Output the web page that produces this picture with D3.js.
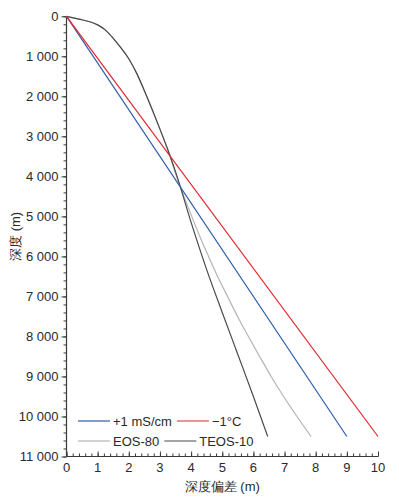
<!DOCTYPE html>
<html><head><meta charset="utf-8">
<script src="https://cdn.jsdelivr.net/npm/d3@7"></script>
<style>body{margin:0;background:#fff;} svg{display:block;}</style>
</head><body>
<svg id="c" width="399" height="497"></svg>
<script>
// Data: depth deviation (m) and depth (m) per series
const condDev = [0, 9.0];
const condDepth = [0, 10500];
const tempDev = [0, 10.0];
const tempDepth = [0, 10500];
const eos80Dev = [0,0.4,0.8,1.0,1.25,1.5,1.75,2.0,2.25,2.5,2.75,3.0,3.25,3.53,3.77,4.02,4.28,4.56,4.85,5.17,5.49,5.84,6.2,6.57,6.97,7.4,7.85];
const eos80Depth = [0,72,150,215,345,550,790,1060,1420,1860,2330,2820,3330,4000,4500,5000,5500,6000,6500,7000,7500,8000,8500,9000,9500,10000,10500];
const teos10Dev = [0,0.4,0.8,1.0,1.25,1.5,1.75,2.0,2.25,2.5,2.75,3.0,3.25,3.5,4.0,4.5,5.0,5.5,6.0,6.46];
const teos10Depth = [0,72,150,215,345,550,790,1060,1420,1860,2330,2820,3330,3880,5150,6330,7400,8450,9500,10500];
const seriesNames = ["+1 mS/cm","\u22121°C","EOS-80","TEOS-10"];
const seriesColors = ["#2f5da8","#e0262c","#b4b4b4","#4a4a4a"];
const xTicks = [0,1,2,3,4,5,6,7,8,9,10];
const yTicks = [0,1000,2000,3000,4000,5000,6000,7000,8000,9000,10000,11000];
const xTitle = "深度偏差 (m)";
const yTitle = "深度 (m)";

const svg = d3.select("#c");
const x = d3.scaleLinear().domain([0,10]).range([66.5,378]);
const y = d3.scaleLinear().domain([0,11000]).range([16.3,456.5]);
const font = "'Liberation Sans', Arial, sans-serif";
const textColor = "#2a2a2a";
const axisColor = "#3a3a3a";

// Y axis (ticks outward)
const yAxis = svg.append("g").attr("transform",`translate(${x(0)},0)`);
yAxis.call(d3.axisLeft(y).tickValues(d3.range(0,11001,200)).tickSize(3).tickFormat(""));
yAxis.select(".domain").remove();
const yAxisM = svg.append("g").attr("transform",`translate(${x(0)},0)`);
yAxisM.call(d3.axisLeft(y).tickValues(yTicks).tickSize(5).tickPadding(3)
  .tickFormat(d=>d3.format(",")(d).replace(/,/g," ")));
yAxisM.select(".domain").remove();
yAxisM.selectAll("text").attr("font-family",font).attr("font-size",13).attr("fill",textColor);

// X axis (ticks inward)
const xAxis = svg.append("g").attr("transform",`translate(0,${y(11000)})`);
xAxis.call(d3.axisTop(x).tickValues(d3.range(0,10.01,0.2)).tickSize(3).tickFormat(""));
xAxis.select(".domain").remove();
const xAxisM = svg.append("g").attr("transform",`translate(0,${y(11000)})`);
xAxisM.call(d3.axisTop(x).tickValues(xTicks).tickSize(5).tickFormat(""));
xAxisM.select(".domain").remove();
svg.selectAll(".tick line").attr("stroke",axisColor);
svg.append("g").selectAll("text").data(xTicks).join("text")
  .attr("x",d=>x(d)).attr("y",y(11000)+15.5).attr("text-anchor","middle")
  .attr("font-family",font).attr("font-size",13).attr("fill",textColor).text(d=>d);

// axis lines
svg.append("line").attr("x1",x(0)).attr("x2",x(0)).attr("y1",y(0)).attr("y2",y(11000)).attr("stroke",axisColor).attr("stroke-width",1.2);
svg.append("line").attr("x1",x(0)).attr("x2",x(10)).attr("y1",y(11000)).attr("y2",y(11000)).attr("stroke",axisColor).attr("stroke-width",1.2);

// titles
svg.append("text").attr("x",(x(0)+x(10))/2).attr("y",491).attr("text-anchor","middle")
  .attr("font-family",font).attr("font-size",13).attr("fill",textColor).text(xTitle);
svg.append("text").attr("transform",`translate(20,${y(5500)}) rotate(-90)`).attr("text-anchor","middle")
  .attr("font-family",font).attr("font-size",13).attr("fill",textColor).text(yTitle);

// lines
const allSeries = [[condDev,condDepth],[tempDev,tempDepth],[eos80Dev,eos80Depth],[teos10Dev,teos10Depth]];
const line = d3.line().x(d=>x(d[0])).y(d=>y(d[1])).curve(d3.curveMonotoneX);
[2,3,0,1].forEach(i=>{
  const [dv,dp] = allSeries[i];
  svg.append("path").datum(dv.map((v,k)=>[v,dp[k]]))
    .attr("d",line).attr("fill","none").attr("stroke",seriesColors[i]).attr("stroke-width",1.2);
});

// legend (flow layout, two rows)
const rows = [[0,1],[2,3]];
const rowY = [421,441];
rows.forEach((r,ri)=>{
  let cx = 78;
  r.forEach(i=>{
    svg.append("line").attr("x1",cx).attr("x2",cx+32).attr("y1",rowY[ri]).attr("y2",rowY[ri])
      .attr("stroke",seriesColors[i]).attr("stroke-width",1.2);
    const t = svg.append("text").attr("x",cx+35).attr("y",rowY[ri]+4.5)
      .attr("font-family",font).attr("font-size",13).attr("fill",textColor).text(seriesNames[i]);
    cx = cx + 35 + t.node().getComputedTextLength() + 5;
  });
});
</script>
</body></html>
